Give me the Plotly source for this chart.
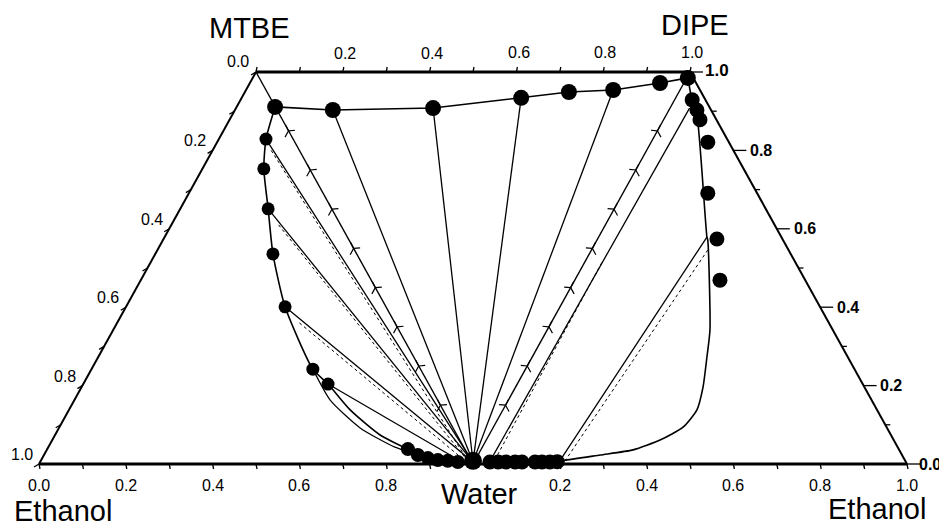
import plotly.graph_objects as go
import numpy as np

# ---------------- geometry of the diagram (diagram units) ----------------
# bottom axis: left Ethanol = 0, Water = 1, right Ethanol = 2 ; height 0..1
MTBE = (0.5, 1.0)
DIPE = (1.5, 1.0)
WATER = (1.0, 0.0)
ETH_L = (0.0, 0.0)
ETH_R = (2.0, 0.0)

# ---------------- data ----------------
# upper binodal (MTBE/DIPE rich side)
top_bin_x = [0.544, 0.677, 0.908, 1.111, 1.221, 1.323, 1.431, 1.495]
top_bin_y = [0.911, 0.903, 0.908, 0.934, 0.949, 0.954, 0.972, 0.985]

# left binodal experimental points
left_dot_x = [0.523, 0.518, 0.528, 0.539, 0.567, 0.631, 0.666]
left_dot_y = [0.829, 0.753, 0.651, 0.536, 0.401, 0.242, 0.204]

# left binodal curve
left_curve_x = [0.544, 0.523, 0.518, 0.528, 0.539, 0.567, 0.631, 0.666, 0.717, 0.786, 0.855, 0.924, 1.000]
left_curve_y = [0.911, 0.829, 0.753, 0.651, 0.536, 0.401, 0.242, 0.204, 0.138, 0.074, 0.036, 0.013, 0.003]
left_curve2_x = [0.631, 0.671, 0.740, 0.820, 0.878]
left_curve2_y = [0.242, 0.163, 0.092, 0.043, 0.023]

# water-rich points, left of water
wl_dot_x = [0.850, 0.873, 0.896, 0.919, 0.942, 0.965]
wl_dot_y = [0.038, 0.023, 0.015, 0.010, 0.008, 0.005]
# water-rich points, right of water
wr_dot_x = [1.039, 1.058, 1.076, 1.097, 1.113, 1.143, 1.159, 1.177, 1.194]
wr_dot_y = [0.005, 0.005, 0.005, 0.005, 0.005, 0.005, 0.005, 0.005, 0.006]

# right binodal experimental points
right_dot_x = [1.505, 1.516, 1.523, 1.541, 1.541, 1.562, 1.569]
right_dot_y = [0.929, 0.903, 0.878, 0.821, 0.691, 0.574, 0.469]

# right binodal curve
right_curve_x = [1.495, 1.507, 1.516, 1.539, 1.541, 1.546, 1.539, 1.530, 1.516, 1.484, 1.431, 1.369, 1.293, 1.200, 1.100]
right_curve_y = [0.985, 0.916, 0.890, 0.579, 0.571, 0.342, 0.273, 0.196, 0.138, 0.094, 0.061, 0.036, 0.023, 0.008, 0.004]

# tie lines (solid): start -> end
tie_x0 = [0.523, 0.528, 0.567, 0.666, 0.677, 0.908, 1.111, 1.323, 1.499, 1.539]
tie_y0 = [0.829, 0.651, 0.401, 0.204, 0.903, 0.908, 0.934, 0.954, 0.908, 0.579]
tie_x1 = [1.000, 1.000, 1.000, 0.975, 1.000, 1.000, 1.000, 1.000, 1.037, 1.200]
tie_y1 = [0.005, 0.005, 0.005, 0.005, 0.005, 0.005, 0.005, 0.005, 0.003, 0.008]

# calculated tie lines (dotted)
dot_x0 = [0.535, 0.552, 0.600, 1.050, 1.541]
dot_y0 = [0.800, 0.610, 0.360, 0.010, 0.546]
dot_x1 = [0.990, 0.990, 0.985, 1.300, 1.212]
dot_y1 = [0.005, 0.005, 0.005, 0.520, 0.008]

# tick labels
frac_labels = ["0.0", "0.2", "0.4", "0.6", "0.8", "1.0"]
frac_values = [0.0, 0.2, 0.4, 0.6, 0.8, 1.0]

FONT = "Liberation Sans, Arial, sans-serif"

# page layout: the figure sits 8 px from the page corner (body margin)
W, H = 939, 519
PXX = 434.0   # pixels per diagram unit (x)
PXY = 392.0   # pixels per diagram unit (y)
X0 = 31.0     # figure px of left Ethanol corner
Y0 = 456.0    # figure px of bottom line

fig = go.Figure()


def seg_trace(xs0, ys0, xs1, ys1, width=1.3, dash="solid", color="black"):
    xs, ys = [], []
    for a, b, c, d in zip(xs0, ys0, xs1, ys1):
        xs += [a, c, None]
        ys += [b, d, None]
    return go.Scatter(x=xs, y=ys, mode="lines", hoverinfo="skip",
                      line=dict(color=color, width=width, dash=dash))

# outline of the diagram
fig.add_trace(seg_trace([MTBE[0], ETH_L[0]], [MTBE[1], ETH_L[1]],
                        [DIPE[0], ETH_R[0]], [DIPE[1], ETH_R[1]], width=3.2))
fig.add_trace(seg_trace([MTBE[0], DIPE[0]], [MTBE[1], DIPE[1]],
                        [ETH_L[0], ETH_R[0]], [ETH_L[1], ETH_R[1]], width=2.0))
# inner edges MTBE-Water and DIPE-Water
fig.add_trace(seg_trace([MTBE[0], DIPE[0]], [MTBE[1], DIPE[1]],
                        [WATER[0], WATER[0]], [WATER[1], WATER[1]], width=1.4))

# axis ticks (every 0.1)
tk = np.round(np.arange(0, 1.0001, 0.1), 2)
px_x = 1 / PXX
px_y = 1 / PXY
tx0, ty0, tx1, ty1 = [], [], [], []
for v in tk:
    for base in (0.0, 1.0):
        tx0.append(base + v); ty0.append(0.0); tx1.append(base + v + 1 * px_x); ty1.append(-5 * px_y)
    tx0.append(0.5 + v); ty0.append(1.0); tx1.append(0.5 + v + 1 * px_x); ty1.append(1.0 + 5 * px_y)
    lx, ly = 0.5 - 0.5 * v, 1.0 - v
    tx0.append(lx); ty0.append(ly); tx1.append(lx - 5 * px_x); ty1.append(ly - 3 * px_y)
    rx, ry = 1.5 + 0.5 * (1 - v), v
    L = 13 if abs((v * 10) % 2) < 1e-6 else 5
    tx0.append(rx); ty0.append(ry); tx1.append(rx + L * px_x); ty1.append(ry)
fig.add_trace(seg_trace(tx0, ty0, tx1, ty1, width=1.3))

# binodal curves
fig.add_trace(go.Scatter(x=top_bin_x, y=top_bin_y, mode="lines", hoverinfo="skip",
                         line=dict(color="black", width=1.6)))
fig.add_trace(go.Scatter(x=left_curve_x, y=left_curve_y, mode="lines", hoverinfo="skip",
                         line=dict(color="black", width=1.6, shape="spline", smoothing=0.6)))
fig.add_trace(go.Scatter(x=left_curve2_x, y=left_curve2_y, mode="lines", hoverinfo="skip",
                         line=dict(color="black", width=1.2, shape="spline", smoothing=0.6)))
fig.add_trace(go.Scatter(x=right_curve_x, y=right_curve_y, mode="lines", hoverinfo="skip",
                         line=dict(color="black", width=1.6, shape="spline", smoothing=0.6)))

# tie lines
fig.add_trace(seg_trace(tie_x0, tie_y0, tie_x1, tie_y1, width=1.3))
fig.add_trace(seg_trace(dot_x0, dot_y0, dot_x1, dot_y1, width=1.0, dash="dot"))

# Y-shaped markers on the MTBE-Water and DIPE-Water lines
for (sx, sy) in (MTBE, DIPE):
    ts = np.arange(0.15, 0.95, 0.1)
    mx = sx + (WATER[0] - sx) * ts
    my = sy + (WATER[1] - sy) * ts
    ang = np.degrees(np.arctan2(-(WATER[1] - sy) * PXY, (WATER[0] - sx) * PXX))
    fig.add_trace(go.Scatter(x=mx, y=my, mode="markers", hoverinfo="skip",
                             marker=dict(symbol="y-down-open", size=9,
                                         angle=float(90 - ang) if sx < 1 else float(-(90 - (180 - ang))),
                                         line=dict(color="black", width=1.2), color="black")))

# experimental points
fig.add_trace(go.Scatter(x=top_bin_x, y=top_bin_y, mode="markers", hoverinfo="skip",
                         marker=dict(color="black", size=16)))
fig.add_trace(go.Scatter(x=left_dot_x, y=left_dot_y, mode="markers", hoverinfo="skip",
                         marker=dict(color="black", size=13)))
fig.add_trace(go.Scatter(x=wl_dot_x, y=wl_dot_y, mode="markers", hoverinfo="skip",
                         marker=dict(color="black", size=14)))
fig.add_trace(go.Scatter(x=wr_dot_x, y=wr_dot_y, mode="markers", hoverinfo="skip",
                         marker=dict(color="black", size=15)))
fig.add_trace(go.Scatter(x=[WATER[0]], y=[0.008], mode="markers", hoverinfo="skip",
                         marker=dict(color="black", size=18)))
fig.add_trace(go.Scatter(x=right_dot_x, y=right_dot_y, mode="markers", hoverinfo="skip",
                         marker=dict(color="black", size=15)))

# ---------------- text ----------------
ann = []


def txt(x, y, s, size=16, xanchor="center", bold=False):
    ann.append(dict(x=x, y=y, xref="x", yref="y", text=("<b>%s</b>" % s) if bold else s,
                    showarrow=False, xanchor=xanchor, yanchor="middle",
                    font=dict(family=FONT, size=size, color="black")))

# bottom labels
for lab, v in zip(frac_labels[:-1], frac_values[:-1]):
    txt(v, -0.054, lab)
for lab, v in zip(frac_labels[1:], frac_values[1:]):
    txt(1.0 + v, -0.054, lab)
# top labels
txt(0.459, 1.026, "0.0")
for lab, v in zip(frac_labels[1:], frac_values[1:]):
    txt(0.5 + v + 0.005, 1.045 + 0.006 * v, lab)
# left edge labels
for lab, v in zip(frac_labels[1:], frac_values[1:]):
    txt(0.5 - 0.5 * v - 0.040, 1.0 - v + 0.024, lab)
# right edge labels
for lab, v in zip(frac_labels, frac_values):
    if v == 1.0:
        txt(1.562, 1.003, lab, size=17, bold=True)
    elif v == 0.0:
        txt(2.0 + 0.022, v, lab, size=16, xanchor="left", bold=True)
    else:
        txt(1.5 + 0.5 * (1 - v) + 0.034, v, lab, xanchor="left", bold=True)

# component names
txt(0.484, 1.112, "MTBE", size=29)
txt(1.512, 1.120, "DIPE", size=29)
txt(0.055, -0.120, "Ethanol", size=29)
txt(1.931, -0.115, "Ethanol", size=29)
txt(1.016, -0.077, "Water", size=29)

fig.update_layout(
    width=W, height=H,
    margin=dict(l=0, r=0, t=0, b=0),
    paper_bgcolor="white", plot_bgcolor="white",
    showlegend=False,
    annotations=ann,
    xaxis=dict(range=[-X0 / PXX, (W - X0) / PXX], visible=False, fixedrange=True),
    yaxis=dict(range=[-(H - Y0) / PXY, Y0 / PXY], visible=False, fixedrange=True),
)

fig.write_html("out.html")
